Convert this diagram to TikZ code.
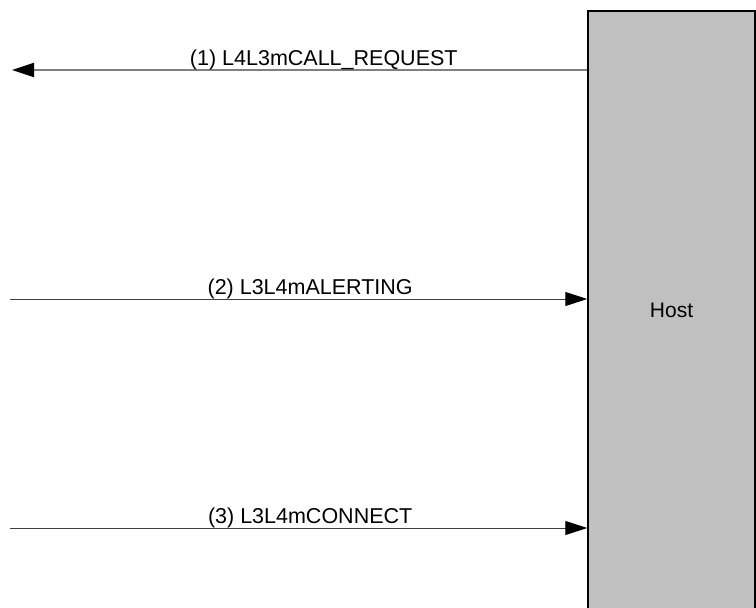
\documentclass[tikz,border=0pt]{standalone}
\usepackage{fontspec}
\setmainfont{Liberation Sans}
\usetikzlibrary{arrows.meta}

\tikzset{
    hostbox/.style={draw=black, line width=1.5pt, fill={rgb,255:red,192;green,192;blue,192},
        minimum width=167pt, minimum height=598pt, inner sep=0pt,
        font=\fontsize{21}{25}\selectfont},
    msgline/.style={-{Triangle[length=22pt,width=14pt,black]}},
    msglabel/.style={anchor=base, yshift=5pt, inner sep=0pt, font=\fontsize{21.5}{26}\selectfont}
}

\begin{document}
\begin{tikzpicture}[x=1pt, y=-1pt]
        \useasboundingbox (0,0) rectangle (756,608);

        % Host
        \node[hostbox] (host) at (671.5,310) {Host};

        % Free ends
        \coordinate (end1) at (12,70);
        \coordinate (start2) at (10,299);
        \coordinate (start3) at (10,528);

        % Messages
        \draw[msgline, gray, line width=2pt] (host.west |- end1) -- (end1)
            node[msglabel, pos=0.458, black] {(1) L4L3mCALL\_REQUEST};
        \draw[msgline, black!75, line width=1pt] (start2) -- (host.west |- start2)
            node[msglabel, pos=0.52, black] {(2) L3L4mALERTING};
        \draw[msgline, black!75, line width=1pt] (start3) -- (host.west |- start3)
            node[msglabel, pos=0.52, black] {(3) L3L4mCONNECT};
    \end{tikzpicture}
\end{document}
